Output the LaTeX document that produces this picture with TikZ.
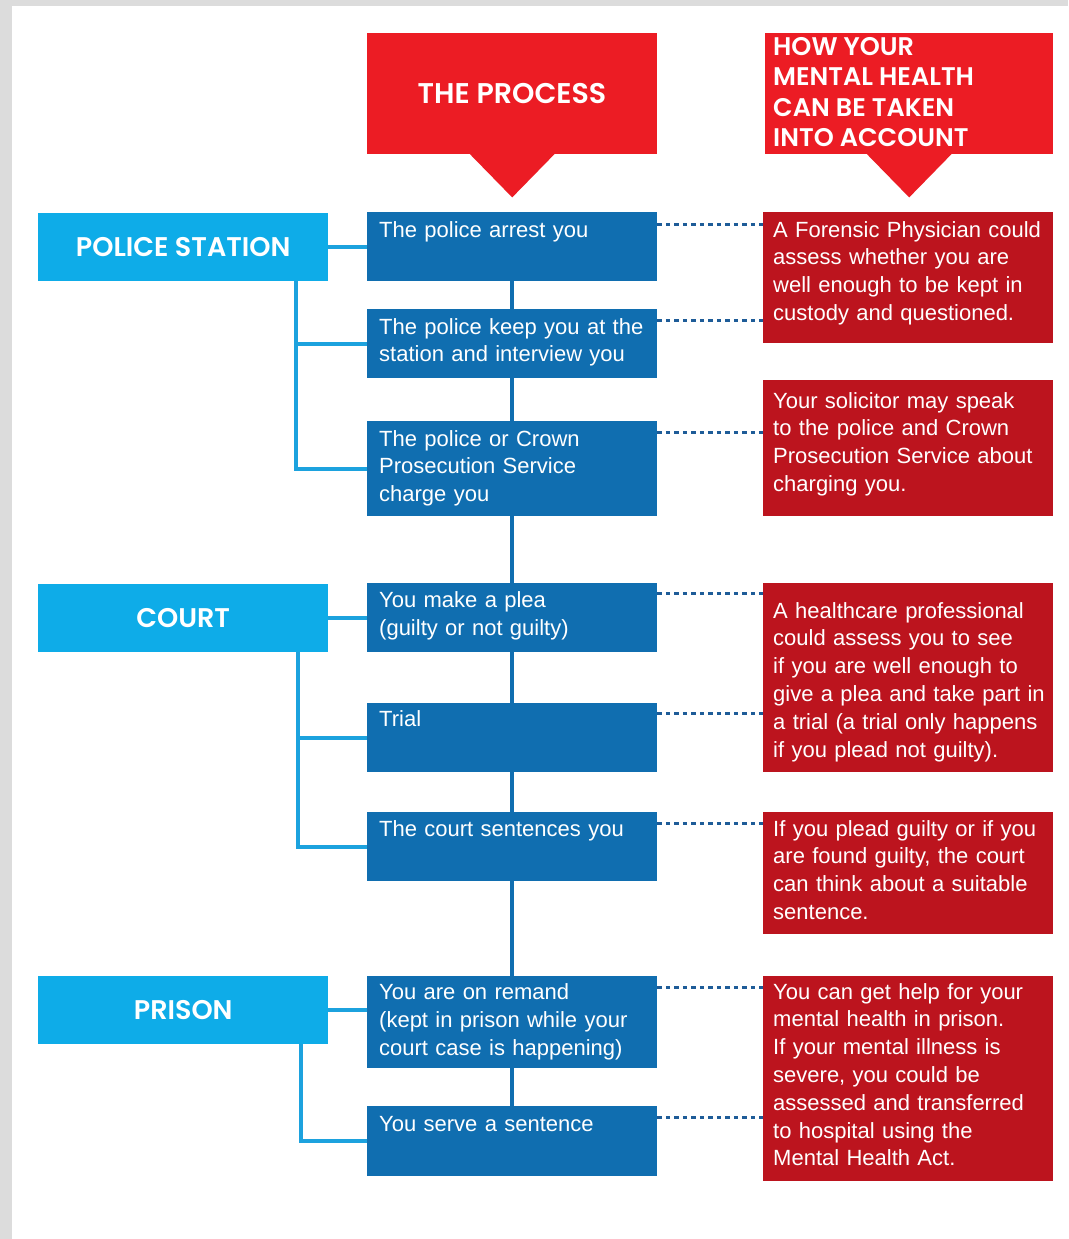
\documentclass[tikz,border=0pt]{standalone}
\usepackage{fontspec}
\setmainfont{Liberation Sans}
\newfontfamily\headfont{Poppins}[BoldFont={Poppins SemiBold}]
\usetikzlibrary{calc}
\definecolor{framegrey}{RGB}{220,220,220}
\definecolor{headred}{RGB}{236,28,36}
\definecolor{boxred}{RGB}{188,20,30}
\definecolor{procblue}{RGB}{16,110,176}
\definecolor{stageblue}{RGB}{14,172,232}
\definecolor{treeblue}{RGB}{28,162,222}
\definecolor{dotblue}{RGB}{30,92,152}
\begin{document}
\begin{tikzpicture}[x=1pt,y=-1pt,
  headbox/.style={fill=headred, draw=none, inner sep=0, anchor=north west, minimum width=#1, minimum height=121pt},
  procbox/.style={fill=procblue, draw=none, inner sep=0, anchor=north west, minimum width=290pt, minimum height=#1},
  redbox/.style={fill=boxred, draw=none, inner sep=0, anchor=north west, minimum width=290pt, minimum height=#1},
  stagebox/.style={fill=stageblue, draw=none, inner sep=0, anchor=north west, minimum width=290pt, minimum height=68pt,
     text=white, font=\headfont\bfseries\fontsize{27}{30}\selectfont},
  bodytext/.style={text=white, inner sep=0, anchor=north west, text width=285pt, align=left,
     font=\fontsize{22}{27.8}\selectfont},
  headtext/.style={text=white, inner sep=0, font=\headfont\bfseries\fontsize{25.5}{30.3}\selectfont},
  tree/.style={draw=treeblue, line width=4pt},
  vline/.style={draw=procblue, line width=3.5pt},
  dotline/.style={draw=dotblue, line width=3pt, dash pattern=on 4.5pt off 4pt},
]
% frame
\fill[framegrey] (0,0) rectangle (1068,1239);
\fill[white] (12,6) rectangle (1068,1239);
\useasboundingbox (0,0) rectangle (1068,1239);

% headers
\node[headbox=290pt] (hp) at (367,33) {};
\node[headbox=288pt] (hm) at (765,33) {};
\fill[headred] ([xshift=-43pt,yshift=1pt]hp.south) -- ([xshift=43pt,yshift=1pt]hp.south) -- ([yshift=-43pt]hp.south) -- cycle;
\fill[headred] ([xshift=-43pt,yshift=1pt]hm.south) -- ([xshift=43pt,yshift=1pt]hm.south) -- ([yshift=-43pt]hm.south) -- cycle;
\node[headtext, font=\headfont\bfseries\fontsize{28.5}{30}\selectfont] (hpt) at (512,94) {THE PROCESS};
\node[headtext, anchor=north west, align=left] (hmt) at (773,34) {\strut HOW YOUR\\MENTAL HEALTH\\CAN BE TAKEN\\INTO ACCOUNT};

% stage boxes
\node[stagebox] (ps) at (38,213) {POLICE STATION};
\node[stagebox] (court) at (38,584) {COURT};
\node[stagebox] (prison) at (38,976) {PRISON};

% process boxes
\node[procbox=69pt] (p1) at (367,212) {};
\node[procbox=69pt] (p2) at (367,309) {};
\node[procbox=95pt] (p3) at (367,421) {};
\node[procbox=69pt] (p4) at (367,583) {};
\node[procbox=69pt] (p5) at (367,703) {};
\node[procbox=69pt] (p6) at (367,812) {};
\node[procbox=92pt] (p7) at (367,976) {};
\node[procbox=70pt] (p8) at (367,1106) {};

\node[bodytext] (p1t) at ([xshift=12pt,yshift=-5.5pt]p1.north west) {\strut The police arrest you};
\node[bodytext] (p2t) at ([xshift=12pt,yshift=-5.5pt]p2.north west) {\strut The police keep you at the\\station and interview you};
\node[bodytext] (p3t) at ([xshift=12pt,yshift=-5.5pt]p3.north west) {\strut The police or Crown\\Prosecution Service\\charge you};
\node[bodytext] (p4t) at ([xshift=12pt,yshift=-5pt]p4.north west) {\strut You make a plea\\(guilty or not guilty)};
\node[bodytext] (p5t) at ([xshift=12pt,yshift=-4pt]p5.north west) {\strut Trial};
\node[bodytext] (p6t) at ([xshift=12pt,yshift=-5pt]p6.north west) {\strut The court sentences you};
\node[bodytext] (p7t) at ([xshift=12pt,yshift=-4pt]p7.north west) {\strut You are on remand\\(kept in prison while your\\court case is happening)};
\node[bodytext] (p8t) at ([xshift=12pt,yshift=-5.5pt]p8.north west) {\strut You serve a sentence};

% red boxes
\node[redbox=131pt] (r1) at (763,212) {};
\node[redbox=136pt] (r2) at (763,380) {};
\node[redbox=189pt] (r3) at (763,583) {};
\node[redbox=122pt] (r4) at (763,812) {};
\node[redbox=205pt] (r5) at (763,976) {};

\node[bodytext] (r1t) at ([xshift=10pt,yshift=-5.5pt]r1.north west) {\strut A Forensic Physician could\\assess whether you are\\well enough to be kept in\\custody and questioned.};
\node[bodytext] (r2t) at ([xshift=10pt,yshift=-8.5pt]r2.north west) {\strut Your solicitor may speak\\to the police and Crown\\Prosecution Service about\\charging you.};
\node[bodytext] (r3t) at ([xshift=10pt,yshift=-15.5pt]r3.north west) {\strut A healthcare professional\\could assess you to see\\if you are well enough to\\give a plea and take part in\\a trial (a trial only happens\\if you plead not guilty).};
\node[bodytext] (r4t) at ([xshift=10pt,yshift=-4.5pt]r4.north west) {\strut If you plead guilty or if you\\are found guilty, the court\\can think about a suitable\\sentence.};
\node[bodytext] (r5t) at ([xshift=10pt,yshift=-3.5pt]r5.north west) {\strut You can get help for your\\mental health in prison.\\If your mental illness is\\severe, you could be\\assessed and transferred\\to hospital using the\\Mental Health Act.};

% central process line
\draw[vline] (p1.south) -- (p2.north);
\draw[vline] (p2.south) -- (p3.north);
\draw[vline] (p3.south) -- (p4.north);
\draw[vline] (p4.south) -- (p5.north);
\draw[vline] (p5.south) -- (p6.north);
\draw[vline] (p6.south) -- (p7.north);
\draw[vline] (p7.south) -- (p8.north);

% stage trees
\coordinate (psx) at ([xshift=-32pt]ps.south east);
\draw[tree] (ps.east) -- (ps.east -| p1.west);
\draw[tree] (psx) |- (p3.west);
\draw[tree] (psx |- p2.west) -- (p2.west);

\coordinate (cx) at ([xshift=-30pt]court.south east);
\draw[tree] (court.east) -- (court.east -| p4.west);
\draw[tree] (cx) |- (p6.west);
\draw[tree] (cx |- p5.west) -- (p5.west);

\coordinate (prx) at ([xshift=-27pt]prison.south east);
\draw[tree] (prison.east) -- (prison.east -| p7.west);
\draw[tree] (prx) |- (p8.west);

% dotted links
\draw[dotline] ([yshift=-12pt]p1.north east) -- ([yshift=-12pt]p1.north east -| r1.west);
\draw[dotline] ([yshift=-11pt]p2.north east) -- ([yshift=-11pt]p2.north east -| r1.west);
\draw[dotline] ([yshift=-11pt]p3.north east) -- ([yshift=-11pt]p3.north east -| r2.west);
\draw[dotline] ([yshift=-10pt]p4.north east) -- ([yshift=-10pt]p4.north east -| r3.west);
\draw[dotline] ([yshift=-10pt]p5.north east) -- ([yshift=-10pt]p5.north east -| r3.west);
\draw[dotline] ([yshift=-11pt]p6.north east) -- ([yshift=-11pt]p6.north east -| r4.west);
\draw[dotline] ([yshift=-11pt]p7.north east) -- ([yshift=-11pt]p7.north east -| r5.west);
\draw[dotline] ([yshift=-11pt]p8.north east) -- ([yshift=-11pt]p8.north east -| r5.west);
\end{tikzpicture}
\end{document}
